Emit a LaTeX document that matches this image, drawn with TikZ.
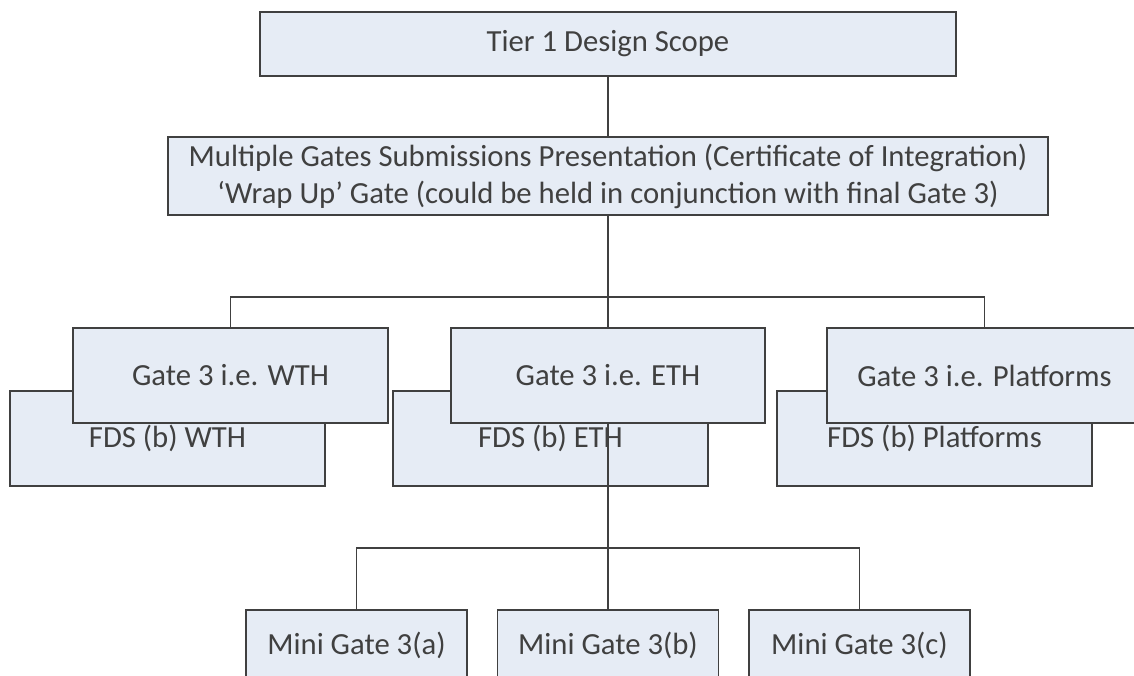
\documentclass[tikz,border=0pt]{standalone}
\usepackage{fontspec}
\setmainfont{Carlito}
\definecolor{boxfill}{HTML}{E6ECF5}
\definecolor{edgegray}{HTML}{404040}
\definecolor{textgray}{HTML}{404040}
\begin{document}
\begin{tikzpicture}[x=1pt, y=-1pt,
    every node/.style={font=\fontsize{30.7}{37}\selectfont, text=textgray},
    chartbox/.style={rectangle, draw=edgegray, fill=boxfill, line width=1.5pt, inner sep=0pt, align=center},
    gatebox/.style={chartbox, minimum width=315, minimum height=95},
    minibox/.style={chartbox, minimum width=221, minimum height=70},
    link/.style={draw=edgegray, line width=1.5pt}]
    \useasboundingbox (0, 0) rectangle (1134, 675);
    \clip (0, 0) rectangle (1134, 675);

    \node[chartbox, minimum width=696, minimum height=64] (tier) at (608, 44) {Tier 1 Design Scope};
    \node[chartbox, minimum width=880, minimum height=78] (wrap) at (608, 176) {Multiple Gates Submissions Presentation (Certificate of Integration)\\`Wrap Up' Gate (could be held in conjunction with final Gate 3)};

    \node[gatebox] (fdsW) at (167.5, 438.5) {FDS (b) WTH};
    \node[gatebox] (fdsE) at (550.5, 438.5) {FDS (b) ETH};
    \node[gatebox] (fdsP) at (934.5, 438.5) {FDS (b) Platforms};

    \node[gatebox] (gateW) at (230.5, 375.5) {Gate 3 i.e. WTH};
    \node[gatebox, minimum width=314] (gateE) at (608, 375.5) {Gate 3 i.e. ETH};
    \node[gatebox] (gateP) at (984.5, 375.5) {Gate 3 i.e. Platforms};

    \node[minibox] (miniA) at (356.5, 645) {Mini Gate 3(a)};
    \node[minibox] (miniB) at (608, 645) {Mini Gate 3(b)};
    \node[minibox] (miniC) at (859.5, 645) {Mini Gate 3(c)};

    \coordinate (busG) at (608, 297);
    \coordinate (busM) at (608, 548);

    \draw[link] (tier.south) -- (wrap.north);
    \draw[link] (wrap.south) -- (gateE.north);
    \draw[link] (gateW.north) |- (busG) -| (gateP.north);
    \draw[link] (gateE.south) -- (miniB.north);
    \draw[link] (miniA.north) |- (busM) -| (miniC.north);
\end{tikzpicture}
\end{document}
